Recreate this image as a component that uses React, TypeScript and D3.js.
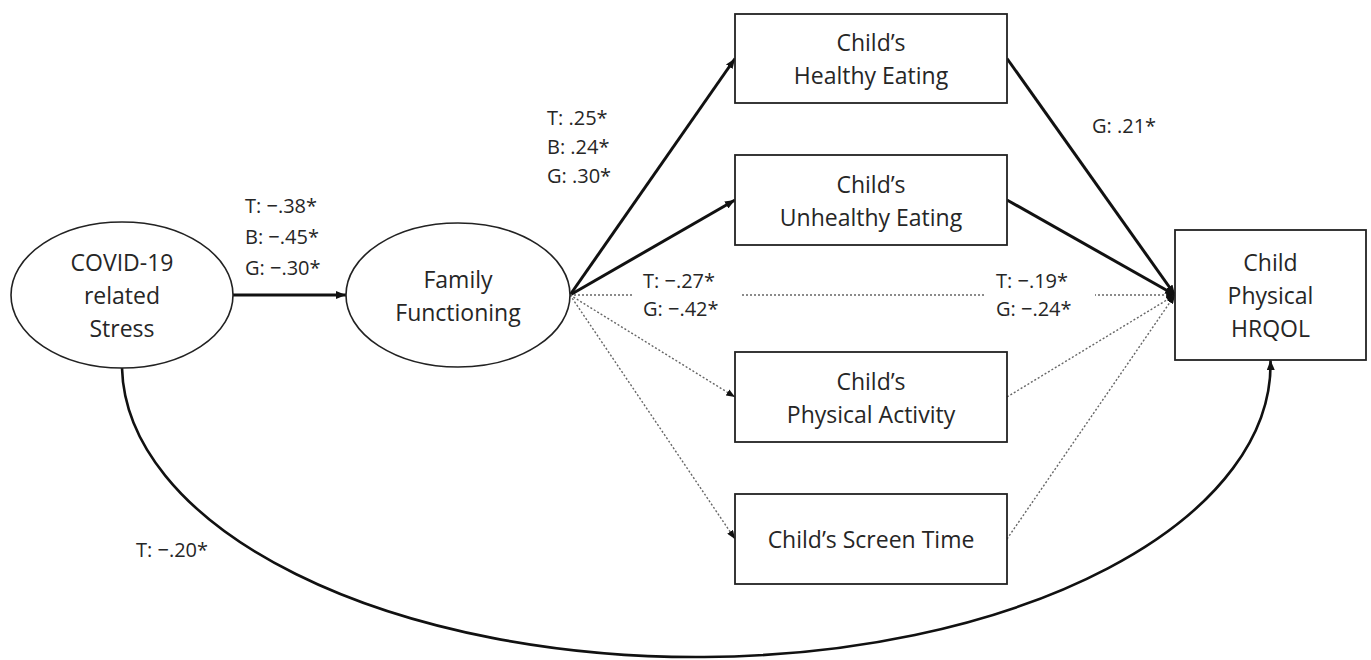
import * as d3 from "d3";

// node labels
const nodeIds = ["stress", "ff", "healthy", "unhealthy", "activity", "screen", "hrqol"];
const nodeLabels: Record<string, string[]> = {
  stress: ["COVID-19", "related", "Stress"],
  ff: ["Family", "Functioning"],
  healthy: ["Child’s", "Healthy Eating"],
  unhealthy: ["Child’s", "Unhealthy Eating"],
  activity: ["Child’s", "Physical Activity"],
  screen: ["Child’s Screen Time"],
  hrqol: ["Child", "Physical", "HRQOL"],
};

// paths: from, to, significant (solid) or not (dotted)
const edgeFrom = ["stress", "ff", "ff", "ff", "ff", "ff", "healthy", "unhealthy", "activity", "screen"];
const edgeTo = ["ff", "healthy", "unhealthy", "hrqol", "activity", "screen", "hrqol", "hrqol", "hrqol", "hrqol"];
const edgeSolid = [true, true, true, false, false, false, true, true, false, false];

// coefficients (T, B, G groups)
const coefStressFF = ["T: −.38*", "B: −.45*", "G: −.30*"];
const coefFFHealthy = ["T: .25*", "B: .24*", "G: .30*"];
const coefFFHrqolA = ["T: −.27*", "G: −.42*"];
const coefFFHrqolB = ["T: −.19*", "G: −.24*"];
const coefHealthyHrqol = ["G: .21*"];
const coefDirect = ["T: −.20*"];

const W = 1371;
const H = 660;
const FONT = "'Open Sans', 'Noto Sans', sans-serif";

// layout of the diagram (pixels)
const ellipses: Record<string, { cx: number; cy: number; rx: number; ry: number }> = {
  stress: { cx: 122, cy: 295, rx: 111, ry: 73 },
  ff: { cx: 458, cy: 295, rx: 112, ry: 72 },
};
const boxes: Record<string, { x: number; y: number; w: number; h: number }> = {
  healthy: { x: 735, y: 14, w: 272, h: 89 },
  unhealthy: { x: 735, y: 155, w: 272, h: 90 },
  activity: { x: 735, y: 352, w: 272, h: 90 },
  screen: { x: 735, y: 494, w: 272, h: 90 },
  hrqol: { x: 1175, y: 230, w: 191, h: 130 },
};

function center(id: string) {
  if (ellipses[id]) return { x: ellipses[id].cx, y: ellipses[id].cy };
  const b = boxes[id];
  return { x: b.x + b.w / 2, y: b.y + b.h / 2 };
}
function rightPort(id: string) {
  if (ellipses[id]) return { x: ellipses[id].cx + ellipses[id].rx, y: ellipses[id].cy };
  const b = boxes[id];
  return { x: b.x + b.w, y: b.y + b.h / 2 };
}
function leftPort(id: string) {
  if (ellipses[id]) return { x: ellipses[id].cx - ellipses[id].rx, y: ellipses[id].cy };
  const b = boxes[id];
  return { x: b.x, y: b.y + b.h / 2 };
}

const line = d3.line<{ x: number; y: number }>().x((d) => d.x).y((d) => d.y);

function CoefBlock({ lines, x, y, step, bg }: { lines: string[]; x: number; y: number; step: number; bg?: boolean }) {
  return (
    <g>
      {bg && <rect x={x - 10} y={y - 16} width={109} height={step * (lines.length - 1) + 32} fill="#fff" />}
      {lines.map((t, i) => (
        <text key={i} x={x} y={y + i * step} dominantBaseline="central" fontSize={20} fill="#262626" fontFamily={FONT}>
          {t}
        </text>
      ))}
    </g>
  );
}

export default function App() {
  const stressB = ellipses.stress;
  const hq = boxes.hrqol;
  const start = { x: stressB.cx, y: stressB.cy + stressB.ry };
  const end = { x: hq.x + hq.w / 2, y: hq.y + hq.h };
  const arcRx = (end.x - start.x) / 2;
  const arcRy = 293;
  const curvePath = `M${start.x},${start.y} A${arcRx},${arcRy} 0 0 0 ${end.x},${end.y}`;

  return (
    <svg width={W} height={H} style={{ position: "absolute", left: 0, top: 0, background: "#fff" }}>
      <defs>
        <marker id="arrow" viewBox="0 0 10 8" refX={10} refY={4} markerWidth={10} markerHeight={8} markerUnits="userSpaceOnUse" orient="auto">
          <path d="M0,0 L10,4 L0,8 z" fill="#111" />
        </marker>
        <marker id="arrowSmall" viewBox="0 0 10 8" refX={10} refY={4} markerWidth={9} markerHeight={7} markerUnits="userSpaceOnUse" orient="auto">
          <path d="M0,0 L10,4 L0,8 z" fill="#111" />
        </marker>
      </defs>

      {/* edges */}
      {edgeFrom.map((f, i) => {
        const t = edgeTo[i];
        const p0 = rightPort(f);
        const p1 = leftPort(t);
        const solid = edgeSolid[i];
        return (
          <path
            key={i}
            d={line([p0, p1]) || ""}
            fill="none"
            stroke={solid ? "#111" : "#666"}
            strokeWidth={solid ? 3 : 1.4}
            strokeDasharray={solid ? undefined : "2 2"}
            markerEnd={solid ? "url(#arrow)" : "url(#arrowSmall)"}
          />
        );
      })}

      {/* direct effect curve */}
      <path d={curvePath} fill="none" stroke="#111" strokeWidth={2.6} markerEnd="url(#arrow)" />

      {/* nodes */}
      {nodeIds.map((id) => {
        const c = center(id);
        const lines = nodeLabels[id];
        const step = 33;
        const y0 = c.y - ((lines.length - 1) * step) / 2;
        return (
          <g key={id}>
            {ellipses[id] ? (
              <ellipse cx={c.x} cy={c.y} rx={ellipses[id].rx} ry={ellipses[id].ry} fill="#fff" stroke="#222" strokeWidth={1.6} />
            ) : (
              <rect x={boxes[id].x} y={boxes[id].y} width={boxes[id].w} height={boxes[id].h} fill="#fff" stroke="#222" strokeWidth={1.8} />
            )}
            {lines.map((t, i) => (
              <text key={i} x={c.x} y={y0 + i * step} textAnchor="middle" dominantBaseline="central" fontSize={23} fill="#262626" fontFamily={FONT}>
                {t}
              </text>
            ))}
          </g>
        );
      })}

      {/* coefficients */}
      <CoefBlock lines={coefStressFF} x={245} y={205} step={31} />
      <CoefBlock lines={coefFFHealthy} x={547} y={117} step={29} />
      <CoefBlock lines={coefFFHrqolA} x={643} y={280} step={28} bg />
      <CoefBlock lines={coefFFHrqolB} x={996} y={280} step={28} bg />
      <CoefBlock lines={coefHealthyHrqol} x={1092} y={125} step={28} />
      <CoefBlock lines={coefDirect} x={136} y={549} step={28} />
    </svg>
  );
}
